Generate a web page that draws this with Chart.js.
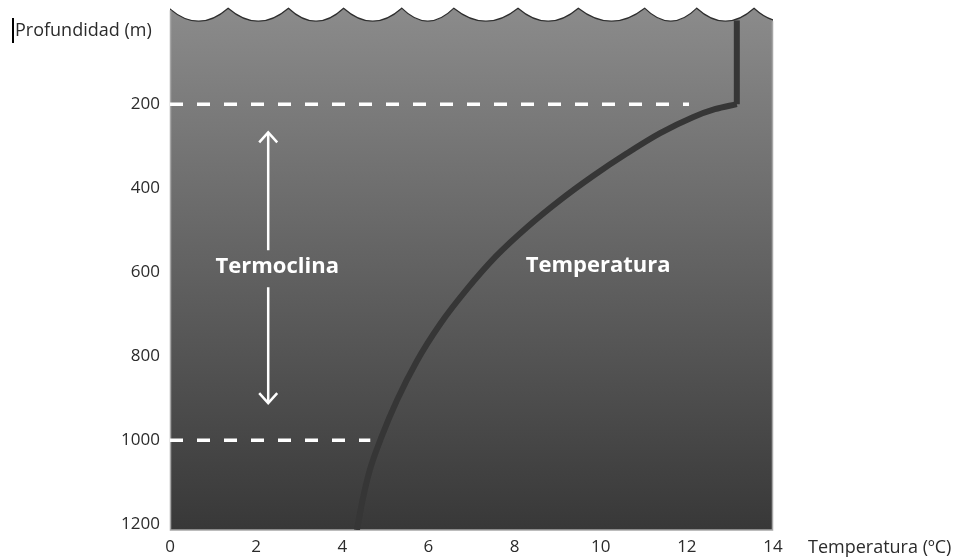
<!DOCTYPE html>
<html><head><meta charset="utf-8">
<script src="https://cdn.jsdelivr.net/npm/chart.js@4"></script>
<style>html,body{margin:0;padding:0;background:#fff;} #wrap{width:962px;height:560px;position:relative;}</style>
</head><body><div id="wrap"><canvas id="c"></canvas></div>
<script>
// ---- data ----
const xTickLabels = [0, 2, 4, 6, 8, 10, 12, 14];
const yTickLabels = [200, 400, 600, 800, 1000, 1200];
const surfaceTemp = [13.16, 13.16];
const surfaceDepth = [0, 200];
const curveTemp = [13.16, 12.65, 12.14, 11.38, 10.61, 9.82, 9.05, 8.29, 7.57, 6.90, 6.27, 5.73, 5.27, 4.92, 4.64, 4.46, 4.34];
const curveDepth = [200, 212, 231, 269, 317, 371, 429, 493, 562, 640, 724, 812, 905, 990, 1071, 1148, 1214];
const thermoDepths = [200, 1000];
const thermoEnds = [12.05, 4.65];
const arrowTemp = 2.28;
const arrowDepths = [267, 548, 636, 912];
const waveCrests = [-0.02, 1.35, 2.75, 4.03, 5.38, 6.59, 8.08, 9.48, 11.02, 12.23, 13.56, 14.86];
const textLabels = ['Termoclina', 'Temperatura'];
const textTemps = [2.49, 9.94];
const textDepths = [602, 600];
const xTitle = 'Temperatura (ºC)';
const yTitle = 'Profundidad (m)';

const toXY = (xs, ys) => xs.map((x, i) => ({x: x, y: ys[i]}));

const datasets = [
  {data: toXY(surfaceTemp, surfaceDepth), borderColor: '#363636', borderWidth: 6, pointRadius: 0, tension: 0, borderCapStyle: 'butt'},
  {data: toXY(curveTemp, curveDepth), borderColor: '#363636', borderWidth: 6, pointRadius: 0, cubicInterpolationMode: 'monotone', borderCapStyle: 'butt'}
];
thermoDepths.forEach((d, i) => {
  datasets.push({data: [{x: 0, y: d}, {x: thermoEnds[i], y: d}], borderColor: '#ffffff', borderWidth: 3.5,
    borderDash: [13, 14], pointRadius: 0, borderCapStyle: 'butt'});
});

const decor = {
  id: 'decor',
  beforeDatasetsDraw(chart) {
    const {ctx, chartArea: a, scales: {x}} = chart;
    const crestY = a.top - 12, sag = 26;
    ctx.save();
    const g = ctx.createLinearGradient(0, crestY, 0, a.bottom);
    g.addColorStop(0, '#8b8b8b');
    g.addColorStop(1, '#383838');
    const wavePath = () => {
      ctx.beginPath();
      const px = waveCrests.map(v => x.getPixelForValue(v));
      ctx.moveTo(px[0], crestY);
      for (let i = 1; i < px.length; i++) {
        ctx.quadraticCurveTo((px[i - 1] + px[i]) / 2, crestY + sag, px[i], crestY);
      }
    };
    ctx.beginPath();
    ctx.rect(a.left, 0, a.right - a.left, a.bottom);
    ctx.clip();
    wavePath();
    ctx.lineTo(x.getPixelForValue(waveCrests[waveCrests.length - 1]), a.bottom);
    ctx.lineTo(a.left, a.bottom);
    ctx.closePath();
    ctx.fillStyle = g;
    ctx.fill();
    wavePath();
    ctx.strokeStyle = '#2e2e2e';
    ctx.lineWidth = 1.2;
    ctx.stroke();
    ctx.restore();
    // light border left, right, bottom
    ctx.save();
    ctx.strokeStyle = '#a6a6a6';
    ctx.lineWidth = 1.5;
    ctx.beginPath();
    ctx.moveTo(a.left + 0.5, crestY + 2);
    ctx.lineTo(a.left + 0.5, a.bottom);
    ctx.lineTo(a.right - 0.5, a.bottom);
    ctx.lineTo(a.right - 0.5, a.top + 1);
    ctx.stroke();
    ctx.restore();
  },
  afterDatasetsDraw(chart) {
    const {ctx, chartArea: a, scales: {x, y}} = chart;
    ctx.save();
    // arrow
    const ax = x.getPixelForValue(arrowTemp);
    const p = arrowDepths.map(d => y.getPixelForValue(d));
    ctx.strokeStyle = '#ffffff';
    ctx.lineWidth = 2.5;
    ctx.lineCap = 'butt';
    ctx.beginPath();
    ctx.moveTo(ax, p[0] + 1); ctx.lineTo(ax, p[1]);
    ctx.moveTo(ax, p[2]); ctx.lineTo(ax, p[3] - 1);
    ctx.stroke();
    ctx.lineJoin = 'miter';
    ctx.beginPath();
    ctx.moveTo(ax - 9, p[0] + 10); ctx.lineTo(ax, p[0]); ctx.lineTo(ax + 9, p[0] + 10);
    ctx.moveTo(ax - 9, p[3] - 10); ctx.lineTo(ax, p[3]); ctx.lineTo(ax + 9, p[3] - 10);
    ctx.stroke();
    // labels
    ctx.fillStyle = '#ffffff';
    ctx.font = 'bold 22px "Open Sans"';
    ctx.textAlign = 'center';
    ctx.textBaseline = 'alphabetic';
    textLabels.forEach((t, i) => {
      ctx.fillText(t, x.getPixelForValue(textTemps[i]), y.getPixelForValue(textDepths[i]));
    });
    // axis titles
    ctx.fillStyle = '#2b2b2b';
    ctx.font = '18px "Open Sans"';
    ctx.textAlign = 'left';
    ctx.textBaseline = 'middle';
    ctx.fillText(xTitle, a.right + 35, a.bottom + 18);
    ctx.fillText(yTitle, 15, 31);
    ctx.strokeStyle = '#000';
    ctx.lineWidth = 2;
    ctx.beginPath();
    ctx.moveTo(13, 18); ctx.lineTo(13, 43);
    ctx.stroke();
    ctx.restore();
  }
};

new Chart(document.getElementById('c'), {
  type: 'line',
  data: {datasets},
  plugins: [decor],
  options: {
    responsive: true,
    maintainAspectRatio: false,
    animation: false,
    layout: {padding: {top: 20, right: 189, bottom: 0, left: 0}},
    plugins: {legend: {display: false}, tooltip: {enabled: false}},
    scales: {
      x: {
        type: 'linear', min: 0, max: 14,
        grid: {display: false, drawTicks: false}, border: {display: false},
        afterBuildTicks: s => { s.ticks = xTickLabels.map(v => ({value: v})); },
        afterFit: s => { s.height = 30; },
        ticks: {padding: 7, color: '#2b2b2b', font: {family: 'Open Sans', size: 17}, maxRotation: 0, autoSkip: false,
          callback: v => String(v)}
      },
      y: {
        type: 'linear', reverse: true, min: 0, max: 1214,
        grid: {display: false, drawTicks: false}, border: {display: false},
        afterBuildTicks: s => { s.ticks = yTickLabels.map(v => ({value: v})); },
        afterFit: s => { s.width = 170; },
        ticks: {padding: 10, color: '#2b2b2b', font: {family: 'Open Sans', size: 17}, autoSkip: false,
          callback: v => String(v)}
      }
    }
  }
});
</script></body></html>
